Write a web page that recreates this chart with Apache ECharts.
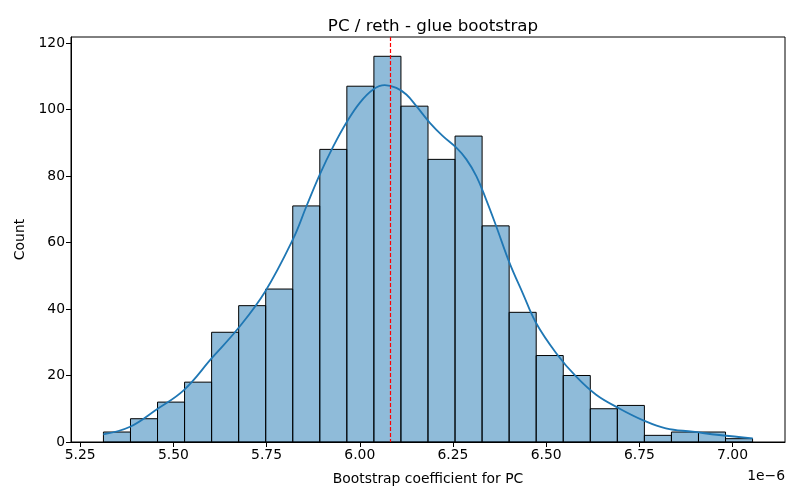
<!DOCTYPE html>
<html>
<head>
<meta charset="utf-8">
<title>PC / reth - glue bootstrap</title>
<script src="https://cdn.jsdelivr.net/npm/echarts@6/dist/echarts.min.js"></script>
<style>
  html, body { margin: 0; padding: 0; background: #fff; }
  #chart { width: 800px; height: 500px; }
</style>
</head>
<body>
<div id="chart"></div>
<script>
// x values are in units of 1e-6
var histMin = 5.3125;
var histMax = 7.0536;
var binCounts = [3, 7, 12, 18, 33, 41, 46, 71, 88, 107, 116, 101, 85, 92, 65, 39, 26, 20, 10, 11, 2, 3, 3, 1];

var kdeX = [5.312, 5.384, 5.455, 5.529, 5.603, 5.674, 5.746, 5.821, 5.857, 5.893, 5.929, 5.964,
            6.000, 6.036, 6.067, 6.098, 6.125, 6.152, 6.188, 6.223, 6.259, 6.286, 6.313, 6.339,
            6.366, 6.402, 6.437, 6.473, 6.527, 6.580, 6.634, 6.696, 6.759, 6.821, 6.893, 6.964, 7.054];
var kdeY = [2.3, 4.6, 9.8, 15.7, 25.2, 34.2, 45.2, 61.0, 70.9, 80.5, 88.9, 96,
            102, 106, 107.3, 106.5, 104.5, 101, 96, 92, 88.5, 85, 79.9, 72.9,
            64.9, 53.8, 44.8, 35.8, 26.7, 19.7, 14.2, 10.1, 6.6, 4.1, 3.1, 2.1, 1.1];

var meanLine = 6.0804;

var xTicks = [5.25, 5.50, 5.75, 6.00, 6.25, 6.50, 6.75, 7.00];
var yTicks = [0, 20, 40, 60, 80, 100, 120];
var yMax = 121.8;

// build histogram rows [left, right, count]
var binWidth = (histMax - histMin) / binCounts.length;
var histData = binCounts.map(function(c, i) {
    return [histMin + i * binWidth, histMin + (i + 1) * binWidth, c];
});
var kdeData = kdeX.map(function(x, i) { return [x, kdeY[i]]; });

var font = 'DejaVu Sans';
var myChart = echarts.init(document.getElementById('chart'));

var option = {
    animation: false,
    textStyle: { fontFamily: font },
    title: {
        text: 'PC / reth - glue bootstrap',
        left: 428,
        top: 13,
        textAlign: 'center',
        textStyle: { fontFamily: font, fontSize: 16.7, fontWeight: 'normal', color: '#000' }
    },
    grid: {
        left: 71, right: 15, top: 37, bottom: 58,
        show: true, borderColor: '#000', borderWidth: 1, backgroundColor: 'transparent'
    },
    xAxis: {
        type: 'value',
        min: 5.2255,
        max: 7.1406,
        name: 'Bootstrap coefficient for PC',
        nameLocation: 'middle',
        nameGap: 30,
        nameTextStyle: { fontFamily: font, fontSize: 13.9, color: '#000' },
        splitLine: { show: false },
        axisLine: { show: true, onZero: false, lineStyle: { color: '#000', width: 1 } },
        axisTick: { show: true, inside: false, length: 5, customValues: xTicks, lineStyle: { color: '#000' } },
        axisLabel: {
            customValues: xTicks, color: '#000', fontSize: 13.9, fontFamily: font, margin: 6,
            formatter: function(v) { return v.toFixed(2); }
        }
    },
    yAxis: {
        type: 'value',
        min: 0,
        max: yMax,
        name: 'Count',
        nameLocation: 'middle',
        nameGap: 42,
        nameTextStyle: { fontFamily: font, fontSize: 13.9, color: '#000' },
        splitLine: { show: false },
        axisLine: { show: true, lineStyle: { color: '#000', width: 1 } },
        axisTick: { show: true, inside: false, length: 5, customValues: yTicks, lineStyle: { color: '#000' } },
        axisLabel: { customValues: yTicks, color: '#000', fontSize: 13.9, fontFamily: font, margin: 6 }
    },
    graphic: [{
        type: 'text',
        right: 15,
        top: 469,
        style: { text: '1e\u22126', fontFamily: font, fontSize: 13.9, fill: '#000' }
    }],
    series: [
        {
            name: 'hist',
            type: 'custom',
            data: histData,
            encode: { x: [0, 1], y: 2 },
            renderItem: function(params, api) {
                var p0 = api.coord([api.value(0), api.value(2)]);
                var p1 = api.coord([api.value(1), 0]);
                return {
                    type: 'rect',
                    shape: { x: p0[0], y: p0[1], width: p1[0] - p0[0], height: p1[1] - p0[1] },
                    style: { fill: 'rgba(31,119,180,0.5)', stroke: '#000', lineWidth: 1 }
                };
            },
            z: 2
        },
        {
            name: 'kde',
            type: 'line',
            data: kdeData,
            smooth: 0.4,
            showSymbol: false,
            lineStyle: { color: '#1f77b4', width: 1.8 },
            z: 3
        },
        {
            name: 'mean',
            type: 'custom',
            data: [[meanLine]],
            encode: { x: 0 },
            renderItem: function(params, api) {
                var top = api.coord([api.value(0), yMax]);
                var bottom = api.coord([api.value(0), 0]);
                var x = Math.round(top[0]) + 0.5;
                return {
                    type: 'line',
                    shape: { x1: x, y1: top[1], x2: x, y2: bottom[1] },
                    style: { stroke: '#ff0000', lineWidth: 1.2, lineDash: [4, 2], opacity: 1 }
                };
            },
            silent: true,
            z: 10
        }
    ]
};

myChart.setOption(option);
</script>
</body>
</html>
